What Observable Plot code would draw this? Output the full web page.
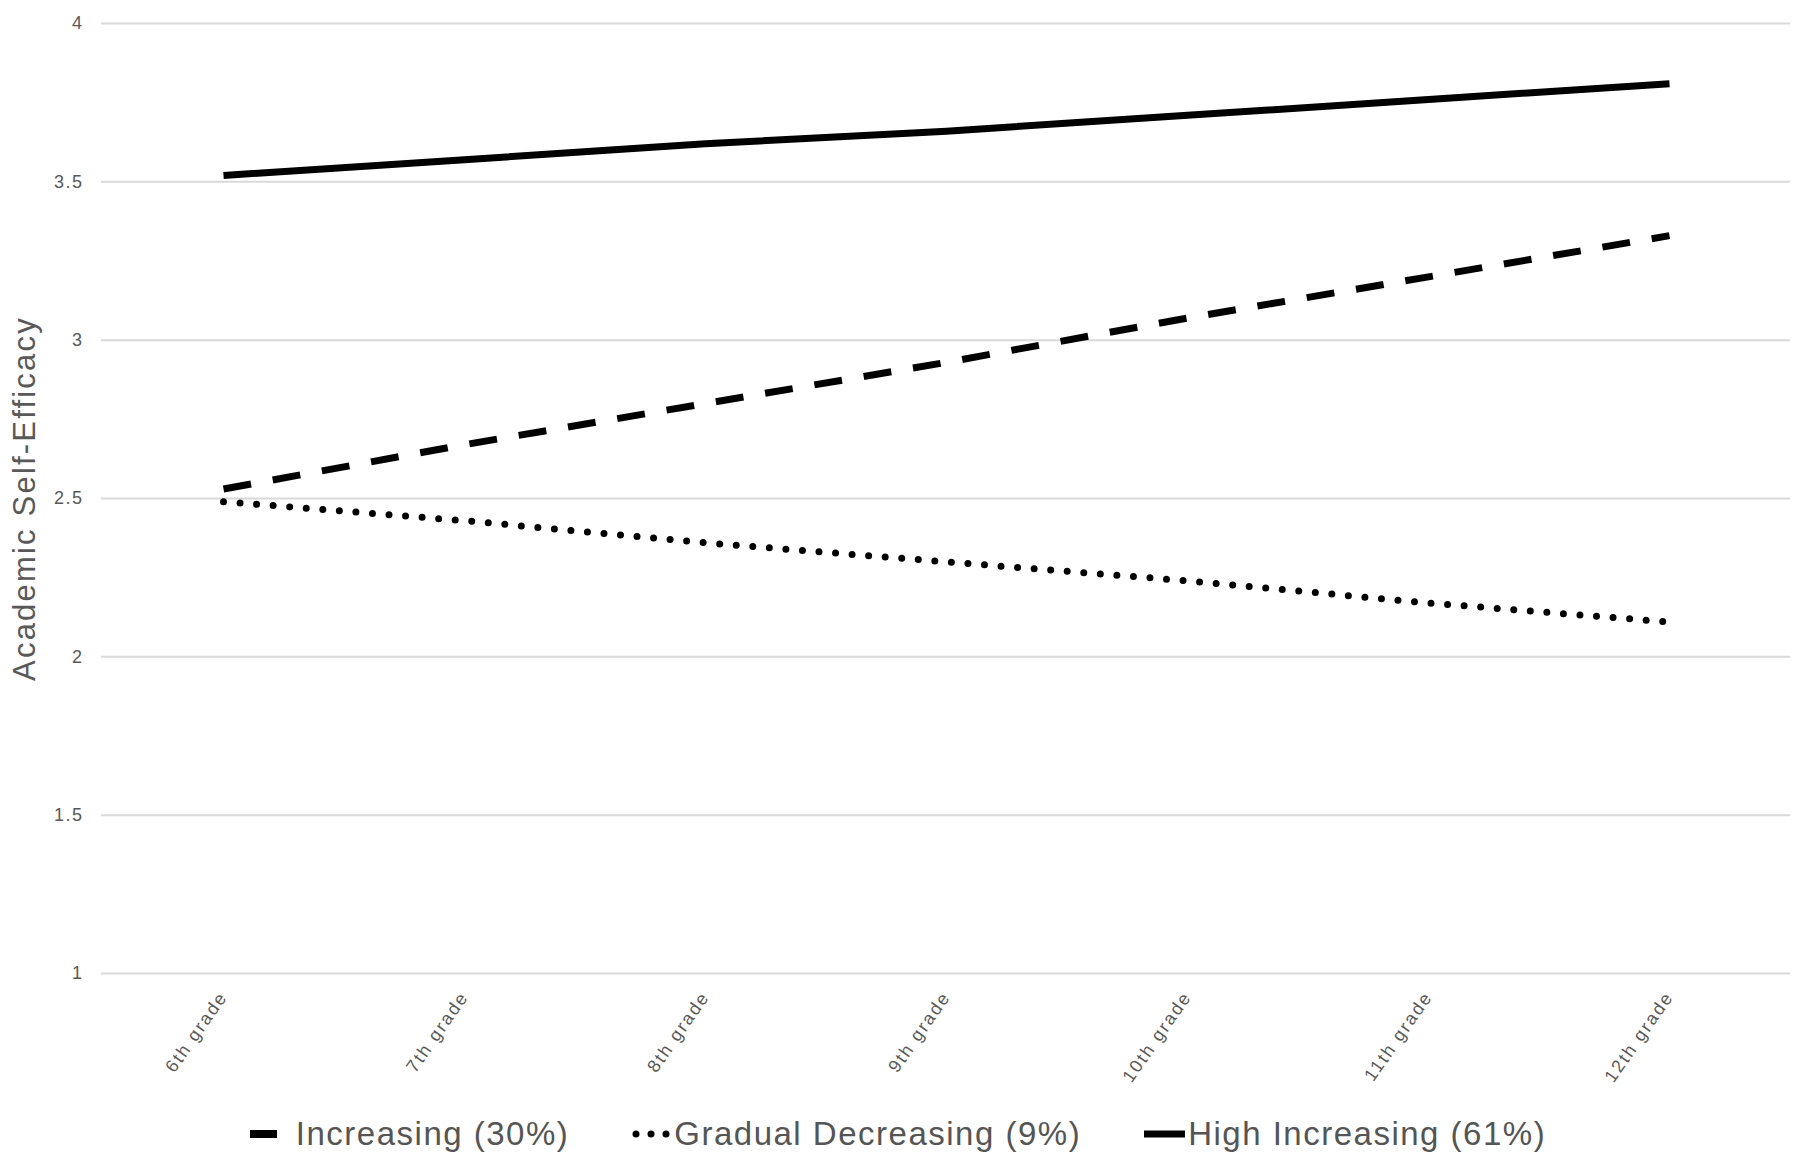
<!DOCTYPE html>
<html>
<head>
<meta charset="utf-8">
<script src="https://cdn.jsdelivr.net/npm/d3@7"></script>
<script src="https://cdn.jsdelivr.net/npm/@observablehq/plot@0.6"></script>
<style>
  html, body { margin: 0; padding: 0; background: #fff; }
  #wrap { width: 1805px; font-family: "Liberation Sans", Arial, sans-serif; }
  #legend { height: 68px; display: flex; justify-content: center; align-items: center; color: #555;
            font-size: 33px; letter-spacing: 1.5px; padding-right: 9px; box-sizing: border-box; }
  .item { display: flex; align-items: center; }
  .item + .item { margin-left: 63px; }
  .item svg { display: block; }
</style>
</head>
<body>
<div id="wrap"></div>
<script>
// ---- data ----
const grades = ["6th grade", "7th grade", "8th grade", "9th grade", "10th grade", "11th grade", "12th grade"];
const increasing = [2.53, 2.67, 2.80, 2.93, 3.07, 3.20, 3.33];
const gradualDecreasing = [2.49, 2.43, 2.36, 2.30, 2.24, 2.17, 2.11];
const highIncreasing = [3.52, 3.57, 3.62, 3.66, 3.71, 3.76, 3.81];
const seriesNames = ["Increasing (30%)", "Gradual Decreasing (9%)", "High Increasing (61%)"];
const yTicks = [1, 1.5, 2, 2.5, 3, 3.5, 4];
const yLabel = "Academic Self-Efficacy";

// ---- styles ----
const seriesValues = [increasing, gradualDecreasing, highIncreasing];
const lineStyles = [
  {strokeWidth: 7, strokeDasharray: "28,22", strokeLinecap: "butt"},
  {strokeWidth: 7, strokeDasharray: "0,16.6", strokeLinecap: "round"},
  {strokeWidth: 7, strokeDasharray: null, strokeLinecap: "butt"}
];

const data = seriesNames.flatMap((s, i) => grades.map((g, j) => ({series: s, grade: g, value: seriesValues[i][j]})));

const W = 1805, H = 1100;
const chart = Plot.plot({
  width: W,
  height: H,
  marginTop: 23,
  marginBottom: 127,
  marginLeft: 101,
  marginRight: 15,
  style: {fontFamily: '"Liberation Sans", Arial, sans-serif', background: "#fff", color: "#595959"},
  x: {type: "point", domain: grades, padding: 0.5},
  y: {domain: [1, 4]},
  marks: [
    Plot.gridY(yTicks, {stroke: "#d9d9d9", strokeOpacity: 1, strokeWidth: 2}),
    Plot.axisY(yTicks, {tickSize: 0, tickPadding: 18, fontSize: 18, fill: "#595959", tickFormat: d => String(d), label: null}),
    Plot.axisX({tickSize: 0, tickPadding: 20, tickRotate: -55, fontSize: 18, fill: "#595959", label: null}),
    ...seriesNames.map((s, i) => Plot.line(data.filter(d => d.series === s), {
      x: "grade", y: "value", stroke: "#000",
      strokeWidth: lineStyles[i].strokeWidth,
      strokeDasharray: lineStyles[i].strokeDasharray,
      strokeLinecap: lineStyles[i].strokeLinecap
    })),
    Plot.text([yLabel], {frameAnchor: "left", rotate: -90, dx: -76, fontSize: 31, fill: "#595959", textAnchor: "middle"})
  ]
});

const wrap = document.getElementById("wrap");
wrap.appendChild(chart);

// letter spacing for tick labels to mimic the reference rendering
d3.select(chart).selectAll('g[aria-label="x-axis tick label"] text').style("letter-spacing", "2px");
d3.select(chart).selectAll('g[aria-label="y-axis tick label"] text').style("letter-spacing", "1.5px");
d3.select(chart).selectAll('g[aria-label="text"] text').style("letter-spacing", "2.2px");

// ---- legend ----
const legend = document.createElement("div");
legend.id = "legend";
const symbolSpecs = [
  {w: 27, gap: 19, type: "line", x1: 0, x2: 27, sw: 8},
  {w: 38, gap: 4, type: "dots", dots: [4, 19, 34], r: 3.5},
  {w: 41, gap: 3, type: "line", x1: 0, x2: 41, sw: 7}
];
seriesNames.forEach((s, i) => {
  const spec = symbolSpecs[i];
  const item = document.createElement("div");
  item.className = "item";
  const svg = d3.create("svg").attr("width", spec.w).attr("height", 14);
  if (spec.type === "line") {
    svg.append("line").attr("x1", spec.x1).attr("x2", spec.x2).attr("y1", 7).attr("y2", 7)
      .attr("stroke", "#000").attr("stroke-width", spec.sw);
  } else {
    svg.selectAll("circle").data(spec.dots).join("circle")
      .attr("cx", d => d).attr("cy", 7).attr("r", spec.r).attr("fill", "#000");
  }
  item.appendChild(svg.node());
  const t = document.createElement("span");
  t.textContent = s;
  t.style.marginLeft = spec.gap + "px";
  item.appendChild(t);
  legend.appendChild(item);
});
wrap.appendChild(legend);
</script>
</body>
</html>
